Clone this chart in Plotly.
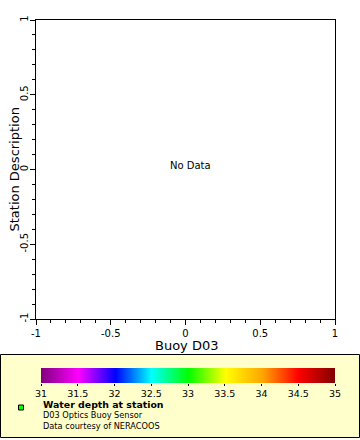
import plotly.graph_objects as go

W, H = 360, 440

# ---- data / labels ----
axis_ticks = [-1, -0.5, 0, 0.5, 1]
axis_tick_labels = ["-1", "-0.5", "0", "0.5", "1"]
x_title = "Buoy D03"
y_title = "Station Description"
no_data_text = "No Data"
station_x = []   # no data available
station_y = []

cbar_values = [31, 31.5, 32, 32.5, 33, 33.5, 34, 34.5, 35]
cbar_tick_labels = ["31", "31.5", "32", "32.5", "33", "33.5", "34", "34.5", "35"]
cbar_colors = ["#800080", "#FF00FF", "#0000FF", "#00FFFF", "#00FF00",
               "#FFFF00", "#FFA500", "#FF0000", "#800000"]

legend_title = "Water depth at station"
legend_lines = ["D03 Optics Buoy Sensor", "Data courtesy of NERACOOS"]
legend_marker_color = "#00FF00"

FONT = "DejaVu Sans"


def px(xp):
    return xp / W


def py(yp):
    return 1 - yp / H


# plot area in pixels
PL, PR, PT, PB = 36, 335, 20, 319
# colour bar in pixels
CL, CR, CT, CB = 41, 335, 368, 383

cmin, cmax = cbar_values[0], cbar_values[-1]
colorscale = [[(v - cmin) / (cmax - cmin), c] for v, c in zip(cbar_values, cbar_colors)]

fig = go.Figure()

# (empty) station data on the main axes
fig.add_trace(go.Scatter(
    x=station_x if station_x else [None], y=station_y if station_y else [None],
    mode="markers", name=legend_title, showlegend=False, hoverinfo="skip",
    marker=dict(symbol="square", color=legend_marker_color, size=6,
                line=dict(color="black", width=1)),
))

# colour bar drawn as a smooth heatmap on its own axes
fig.add_trace(go.Heatmap(
    z=[cbar_values], x=cbar_values, y=[0],
    zmin=cmin, zmax=cmax, colorscale=colorscale, zsmooth="best",
    showscale=False, hoverinfo="skip",
    xaxis="x2", yaxis="y2",
))

axis_common = dict(
    range=[-1, 1], tickvals=axis_ticks, ticktext=axis_tick_labels,
    ticks="outside", ticklen=5, tickwidth=1, tickcolor="black",
    showline=True, linecolor="black", linewidth=1, mirror=True,
    showgrid=False, zeroline=False, automargin=False,
    tickfont=dict(family=FONT, size=10, color="black"),
    minor=dict(dtick=0.1, tick0=0, ticks="outside", ticklen=3,
               tickcolor="black", showgrid=False),
)

fig.update_layout(
    width=W, height=H,
    margin=dict(l=0, r=0, t=0, b=0),
    paper_bgcolor="white", plot_bgcolor="white",
    font=dict(family=FONT, color="black"),
    showlegend=False,
    xaxis=dict(domain=[px(PL), px(PR)], anchor="y", **axis_common),
    yaxis=dict(domain=[py(PB), py(PT)], anchor="x", tickangle=-90,
               ticklabelstandoff=-2, **axis_common),
    xaxis2=dict(domain=[px(CL), px(CR)], anchor="y2", range=[cmin, cmax],
                tickvals=cbar_values, ticktext=cbar_tick_labels,
                ticks="outside", ticklen=2, tickcolor="black",
                showline=False, showgrid=False, zeroline=False, automargin=False,
                tickfont=dict(family=FONT, size=9.5, color="black")),
    yaxis2=dict(domain=[py(CB), py(CT)], anchor="x2", range=[-0.5, 0.5],
                visible=False, fixedrange=True),
)

# legend panel
fig.add_shape(type="rect", xref="paper", yref="paper",
              x0=px(0.5), x1=px(359.5), y0=py(437.5), y1=py(354.5),
              fillcolor="#FFFFCC", line=dict(color="black", width=1), layer="below")
# legend marker
fig.add_shape(type="rect", xref="paper", yref="paper",
              x0=px(18.5), x1=px(23.5), y0=py(410), y1=py(405),
              fillcolor=legend_marker_color, line=dict(color="black", width=1))

fig.add_annotation(text="<b>" + legend_title + "</b>", xref="paper", yref="paper",
                   x=px(42), y=py(404.5), xanchor="left", yanchor="middle",
                   showarrow=False, borderpad=0,
                   font=dict(family=FONT, size=9.4, color="black"))
fig.add_annotation(text="<br>".join(legend_lines), xref="paper", yref="paper",
                   x=px(42), y=py(420.5), xanchor="left", yanchor="middle", align="left",
                   showarrow=False, borderpad=0,
                   font=dict(family=FONT, size=8.2, color="black"))

# axis titles
fig.add_annotation(text=x_title, xref="paper", yref="paper",
                   x=px(187), y=py(345), xanchor="center", yanchor="middle",
                   showarrow=False, font=dict(family=FONT, size=13, color="black"))
fig.add_annotation(text=y_title, xref="paper", yref="paper",
                   x=px(14), y=py(169.5), xanchor="center", yanchor="middle",
                   textangle=-90,
                   showarrow=False, font=dict(family=FONT, size=13, color="black"))

# no data message
fig.add_annotation(text=no_data_text, xref="paper", yref="paper",
                   x=px(190), y=py(165.5), xanchor="center", yanchor="middle",
                   showarrow=False, font=dict(family=FONT, size=10, color="black"))

fig.write_html("out.html")
